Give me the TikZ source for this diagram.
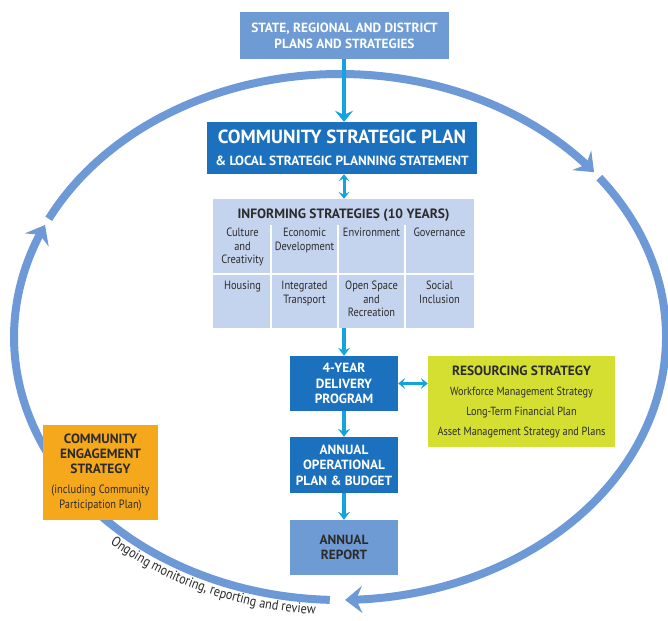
\documentclass[tikz,border=0pt]{standalone}
\usepackage{fontspec}
\setmainfont{PT Sans}[FakeStretch=0.87, BoldFeatures={FakeStretch=1.0}]
\usetikzlibrary{arrows.meta,bending,decorations.text}
\definecolor{topblue}{HTML}{6F9BD5}
\definecolor{darkblue}{HTML}{1B71BE}
\definecolor{lightinf}{HTML}{C5D4EE}
\definecolor{limec}{HTML}{D4DF32}
\definecolor{orangec}{HTML}{F6A81C}
\definecolor{textdark}{HTML}{2B2B2B}
\definecolor{cyanc}{HTML}{15A3DF}
\definecolor{ringc}{HTML}{6D99D6}
\begin{document}
\begin{tikzpicture}[x=1pt,y=1pt,
  box/.style={rectangle, inner sep=0pt, align=center},
  ring/.style={draw=ringc, line width=8pt, -{Stealth[length=17pt,width=27pt,inset=6pt]}},
  cybig/.style={draw=cyanc, line width=4.5pt, -{Stealth[length=11pt,width=18pt,inset=4pt]}},
  cyone/.style={draw=cyanc, line width=3.5pt, -{Stealth[length=8pt,width=12pt,inset=3pt]}},
  cytwo/.style={draw=cyanc, line width=3pt, {Stealth[length=7pt,width=11pt,inset=3pt]}-{Stealth[length=7pt,width=11pt,inset=3pt]}},
  grid/.style={draw=white, line width=1.5pt},
  cell/.style={anchor=north, align=center, inner sep=0pt, text=textdark, font=\fontsize{12}{13.5}\selectfont},
  boldtext/.style={font=\bfseries\fontsize{13.3}{15.5}\selectfont}
]
\useasboundingbox (0,0) rectangle (668,620);
\fill[white] (0,0) rectangle (668,620);

% outer cycle
\coordinate (c) at (340,283);
\draw[ring] (c) ++(268.2:326 and 263) arc[start angle=268.2, end angle=154.8, x radius=326, y radius=263];
\draw[ring] (c) ++(153.3:326 and 263) arc[start angle=153.3, end angle=38.8, x radius=326, y radius=263];
\draw[ring] (c) ++(37.3:326 and 263) arc[start angle=37.3, end angle=-89.1, x radius=326, y radius=263];

\path[decorate, decoration={text along path, text align=center,
  text={|\fontsize{14}{14}\selectfont\color{textdark}|Ongoing monitoring, reporting and review}}]
  (c) ++(216:343 and 278) arc[start angle=216, end angle=276.6, x radius=343, y radius=278];

% boxes
\node[box, fill=topblue, minimum width=209, minimum height=47, text=white,
  font=\bfseries\fontsize{13.3}{16}\selectfont] (top) at (344.5,584.5)
  {STATE, REGIONAL AND DISTRICT\\PLANS AND STRATEGIES};

\node[box, fill=darkblue, minimum width=270, minimum height=52, text=white,
  font=\bfseries\fontsize{19}{22}\selectfont] (csp) at (342,472)
  {COMMUNITY STRATEGIC PLAN\\
   \fontsize{13.3}{20}\selectfont \& LOCAL STRATEGIC PLANNING STATEMENT};

\node[box, fill=lightinf, minimum width=261, minimum height=129] (inf) at (343.5,356.5) {};
\node[inner sep=0pt, text=textdark, font=\bfseries\fontsize{13.5}{15}\selectfont] (inft) at (343.5,405)
  {INFORMING STRATEGIES (10 YEARS)};
\draw[grid] (271,395) -- (271,291.5);
\draw[grid] (338,395) -- (338,291.5);
\draw[grid] (405,395) -- (405,291.5);
\draw[grid] (213,346) -- (474,346);
\node[cell] (c11) at (242.5,392) {Culture\\and\\Creativity};
\node[cell] (c12) at (304.5,392) {Economic\\Development};
\node[cell] (c13) at (371.5,392) {Environment};
\node[cell] (c14) at (439.5,392) {Governance};
\node[cell] (c21) at (242.5,339) {Housing};
\node[cell] (c22) at (304.5,339) {Integrated\\Transport};
\node[cell] (c23) at (371.5,339) {Open Space\\and\\Recreation};
\node[cell] (c24) at (439.5,339) {Social\\Inclusion};

\node[box, boldtext, fill=darkblue, minimum width=108, minimum height=55, text=white] (dp) at (344,236.5)
  {4-YEAR\\DELIVERY\\PROGRAM};

\node[box, fill=limec, minimum width=187, minimum height=91, text=textdark,
  font=\fontsize{11.8}{20}\selectfont] (res) at (521.5,218.5)
  {\bfseries\fontsize{13.4}{20}\selectfont RESOURCING STRATEGY\\
   Workforce Management Strategy\\ Long-Term Financial Plan\\ Asset Management Strategy and Plans};

\node[box, boldtext, fill=darkblue, minimum width=108, minimum height=56, text=white] (aop) at (344,155)
  {ANNUAL\\OPERATIONAL\\PLAN \& BUDGET};

\node[box, boldtext, fill=topblue, minimum width=108, minimum height=55, text=textdark] (ar) at (344,72.5)
  {ANNUAL\\REPORT};

\node[box, fill=orangec, minimum width=115, minimum height=95, text=textdark,
  font=\bfseries\fontsize{13.4}{15}\selectfont] (ces) at (100.5,147.5)
  {COMMUNITY\\ENGAGEMENT\\STRATEGY\\[5pt]
   \mdseries\fontsize{12}{14}\selectfont (including Community\\
   \mdseries\fontsize{12}{14}\selectfont Participation Plan)};

% connectors
\draw[cybig] (dp.north |- top.south) -- (dp.north |- csp.north);
\draw[cytwo] (dp.north |- csp.south) -- (dp.north |- inf.north);
\draw[cyone] (dp.north |- inf.south) -- (dp.north);
\draw[cytwo] (dp.east) -- (res.west |- dp.east);
\draw[cyone] (dp.south) -- (aop.north);
\draw[cyone] (aop.south) -- (ar.north);
\end{tikzpicture}
\end{document}
